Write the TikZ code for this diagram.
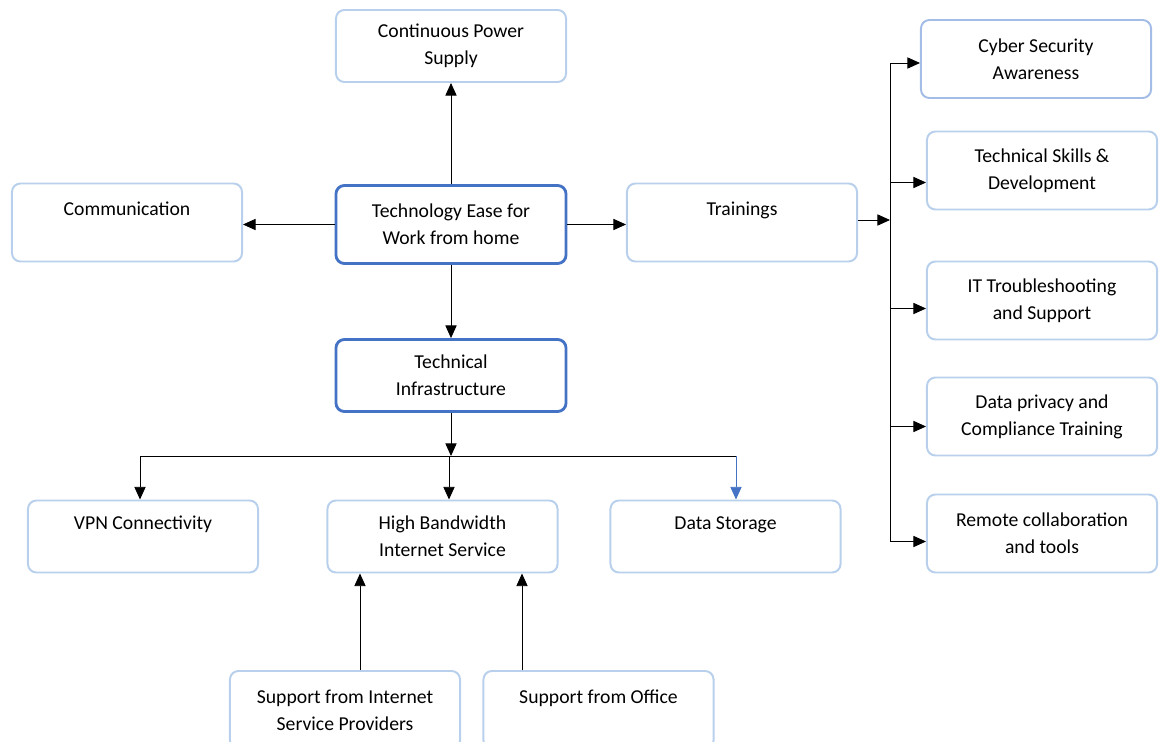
\documentclass[tikz,border=0pt]{standalone}
\usepackage{fontspec}
\setmainfont{Carlito}
\usetikzlibrary{arrows.meta}
\definecolor{lightblue}{HTML}{B8D0EC}
\definecolor{midblue}{HTML}{A4BDE6}
\definecolor{darkblue}{HTML}{4472C4}
\begin{document}
\begin{tikzpicture}[x=0.025cm, y=-0.025cm, line join=round, >={Triangle[width=8pt,length=9pt]},
		font=\fontsize{14}{19}\selectfont,
		box/.style={draw=lightblue, line width=1.4pt, rounded corners=6pt, minimum width=5.75cm, minimum height=1.95cm, align=center, inner sep=2pt},
		lowbox/.style={box, minimum height=1.8cm},
		mainbox/.style={box, draw=darkblue, line width=2pt},
		link/.style={->, line width=0.6pt}]
	\useasboundingbox (0,0) rectangle (1160,742);
	
	\node[lowbox] (cps) at (451,46) {Continuous Power\\Supply};
	\node[box] (comm) at (127,222.5) {Communication\\\mbox{}};
	\node[mainbox] (tech) at (451,224.5) {Technology Ease for\\Work from home};
	\node[box] (train) at (742,222.5) {Trainings\\\mbox{}};
	\node[mainbox, minimum height=1.8cm] (infra) at (451,375.5) {Technical\\Infrastructure};
	
	\node[lowbox] (vpn) at (143,536.5) {VPN Connectivity\\\mbox{}};
	\node[lowbox] (hbw) at (442.5,536.5) {High Bandwidth\\Internet Service};
	\node[lowbox] (store) at (725.5,536.5) {Data Storage\\\mbox{}};
	\node[box] (isp) at (345,710) {Support from Internet\\Service Providers};
	\node[box] (office) at (598.5,710) {Support from Office\\\mbox{}};
	
	\node[box, draw=midblue] (cyber) at (1036,59) {Cyber Security\\Awareness};
	\node[box] (skills) at (1042,170.5) {Technical Skills \&\\Development};
	\node[box] (trouble) at (1042,300.5) {IT Troubleshooting\\and Support};
	\node[box] (privacy) at (1042,416.5) {Data privacy and\\Compliance Training};
	\node[box] (remote) at (1042,533.5) {Remote collaboration\\and tools};
	
	% from the centre
	\draw[link] (tech.north) -- (cps.south);
	\draw[link] (tech.west) -- (tech.west -| comm.east);
	\draw[link] (tech.east) -- (tech.east -| train.west);
	\draw[link] (tech.south) -- (infra.north);
	
	% infrastructure branch
	\coordinate (split) at (449,456);
	\coordinate (left) at (140,456);
	\coordinate (right) at (736,456);
	\draw[link] (infra.south) -- (infra.south |- split);
	\draw[line width=0.6pt] (left) -- (right);
	\draw[link] (left) -- (left |- vpn.north);
	\draw[link] (split) -- (split |- hbw.north);
	\draw[link, darkblue] (right) -- (right |- store.north);
	
	\coordinate (up1) at (360,600);
	\coordinate (up2) at (522,600);
	\draw[link] (up1 |- isp.north) -- (up1 |- hbw.south);
	\draw[link] (up2 |- office.north) -- (up2 |- hbw.south);
	
	% trainings branch
	\coordinate (bus) at (890,220);
	\draw[link] (train.east |- bus) -- (bus);
	\draw[line width=0.6pt] ([yshift=-4*0.025cm]bus |- cyber.west) -- ([yshift=-8*0.025cm]bus |- remote.west);
	\foreach \n/\d in {cyber/4,skills/12,trouble/8,privacy/10,remote/8}
	\draw[link] ([yshift=-\d*0.025cm]bus |- \n.west) -- ([yshift=-\d*0.025cm]\n.west);
\end{tikzpicture}
\end{document}
